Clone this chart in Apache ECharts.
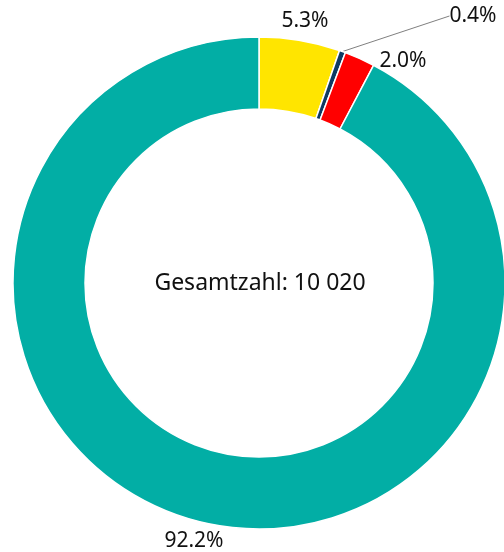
<!DOCTYPE html>
<html>
<head>
<meta charset="utf-8">
<script src="https://cdn.jsdelivr.net/npm/echarts@6/dist/echarts.min.js"></script>
<style>
  html, body { margin: 0; padding: 0; background: #fff; }
  #main { width: 504px; height: 552px; }
</style>
</head>
<body>
<div id="main"></div>
<script>
  // Anteile in Prozent, im Uhrzeigersinn ab 12 Uhr
  const categories = ['Kategorie A', 'Kategorie B', 'Kategorie C', 'Kategorie D'];
  const shares = [5.3, 0.4, 2.0, 92.2];
  const colors = ['#ffe500', '#0d3a63', '#ff0000', '#02aea5'];
  const totalLabel = 'Gesamtzahl: 10 020';

  // where the percentage labels sit (label centre, px)
  const labelPos = [[305, 21], [473, 16], [403, 61], [194, 541]];

  const chart = echarts.init(document.getElementById('main'));

  const data = categories.map((name, i) => ({
    name: name,
    value: shares[i],
    itemStyle: { color: colors[i] },
    labelLine: { show: i === 1 }
  }));

  const option = {
    backgroundColor: '#fff',
    animation: false,
    graphic: [{
      type: 'text',
      x: 260,
      y: 283,
      style: {
        text: totalLabel,
        align: 'center',
        verticalAlign: 'middle',
        font: '23px "Noto Sans"',
        fill: '#111'
      }
    }],
    series: [{
      type: 'pie',
      center: [259, 283],
      radius: [174, 246],
      startAngle: 90,
      clockwise: true,
      avoidLabelOverlap: false,
      itemStyle: { borderColor: '#fff', borderWidth: 1.5 },
      label: {
        show: true,
        position: 'outside',
        formatter: p => p.value.toFixed(1) + '%',
        fontFamily: 'Noto Sans',
        fontSize: 21,
        color: '#111'
      },
      labelLine: {
        length: 0,
        length2: 0,
        lineStyle: { color: '#808080', width: 1 }
      },
      labelLayout: function (params) {
        const p = labelPos[params.dataIndex];
        return { x: p[0], y: p[1], align: 'center', verticalAlign: 'middle' };
      },
      emphasis: { disabled: true },
      data: data
    }]
  };
  chart.setOption(option);
</script>
</body>
</html>
